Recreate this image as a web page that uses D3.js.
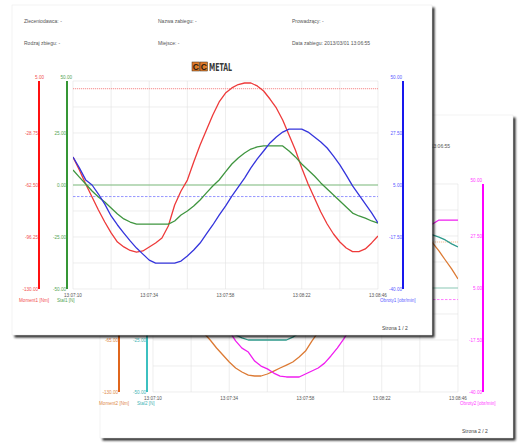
<!DOCTYPE html>
<html>
<head>
<meta charset="utf-8">
<script src="https://cdn.jsdelivr.net/npm/d3@7"></script>
<style>
body { margin: 0; background: #fff; }
svg { display: block; font-family: "Liberation Sans", Arial, sans-serif; }
</style>
</head>
<body>
<svg id="chart" width="520" height="445"></svg>
<script>
// Two report pages (Strona 2 behind, Strona 1 in front)

var seconds = [0,2,4,6,8,10,12,14,16,18,20,22,24,26,28,30,32,34,36,38,40,42,44,46,48,
	50,52,54,56,58,60,62,64,66,68,70,72,74,76,78,80,82,84,86,88,90,92,94,96];
var timeTicks = [0, 24, 48, 72, 96];
var timeLabels = ["13:07:10", "13:07:34", "13:07:58", "13:08:22", "13:08:46"];

// page 1
var moment1 = [-44.3,-52.8,-61.8,-70.3,-78.7,-86.5,-93.6,-99.5,-102.7,-105,-106,-105.3,-102.7,-100.1,-96.9,
	-89.1,-75.5,-66.4,-59.3,-47.6,-36.5,-26.8,-17.1,-8.6,-2.8,0.5,2.7,3.7,3.7,1.8,-1.5,-6.7,-12.5,-20.3,-30,
	-39.8,-51.5,-61.8,-70.9,-80,-87.8,-94.3,-99.5,-103.4,-105.7,-105.7,-104,-100.1,-95.6];
var stal1 = [7.2,3.8,0.5,-2.9,-5.8,-8.2,-11.1,-13.9,-16.3,-17.8,-18.8,-18.8,-18.8,-18.8,-18.8,-18.8,-17.3,
	-14.4,-12.5,-10.1,-7.2,-3.8,-0.5,2.4,6.3,10.1,13,15.4,17.3,18.3,18.8,18.8,18.8,18.8,16.3,13.5,10.1,7.2,
	4.3,1,-1.9,-4.8,-7.7,-10.6,-13.5,-14.9,-15.9,-17.3,-18.3];
var obroty1 = [17.1,12.4,7.2,5.0,1.1,-3.3,-8.4,-12.3,-15.8,-19.2,-22.3,-24.9,-27.5,-28.8,-28.8,-28.8,-28.8,
	-27.9,-25.7,-23.1,-20.1,-16.2,-12.3,-8,-4.1,0.2,4.1,8,12.4,16.3,19.7,23.2,25.8,27.9,29.2,29.2,29.2,27.9,
	25.8,23.6,21,17.5,13.7,9.3,4.6,0.7,-3.2,-7.1,-11.4];

// page 2
var moment2 = [48.8,33.8,18.8,3.8,-10,-23.8,-36.3,-47.5,-56.3,-65,-75,-83.8,-92.5,-100,-105,-108.8,-110,
	-110,-107.5,-103.8,-100,-96.3,-92.5,-86.3,-78.8,-66.3,-55,-41.3,-26.3,-10,6.3,22.5,37.5,51.3,63.8,73.8,
	81.3,86.3,88.8,88.8,85,78.8,71.3,63.8,56.3,46.3,35,23.8,11.3];
var stal2 = [13,9.1,5.3,1.9,-1.9,-5.3,-8.7,-11.5,-14.4,-16.8,-19.2,-20.5,-21.5,-22.5,-24,-25,-25,
	-25,-25,-25,-25,-25,-23.6,-21.6,-19.2,-16.3,-13,-9.6,-5.8,-1.9,1.9,5.8,9.1,12.5,15.4,18.3,20.7,
	22.6,24,25,25.5,25.5,25.5,25.5,25.5,24.5,23.1,21.2,19.7];
var obroty2 = [43.5,38.7,34,29.2,24,18.8,13.2,7.6,2.4,-2.4,-6.3,-10.6,-13.6,-17.9,-21,-22.7,-26.6,-28.8,
	-30,-31.8,-33.1,-33.5,-33.5,-33.5,-32.2,-30.9,-29.6,-27.5,-24.4,-21,-17.1,-12.7,-7.5,-1.9,4.1,10.2,15.8,
	21,25.3,28.4,30.5,31.4,31.8,32.3,32.7,34.4,34.4,34.4,34.4];

// axis tick labels
var moment1Ticks = [5, -28.75, -62.5, -96.25, -130];
var moment2Ticks = [130, 65, 0, -65, -130];
var stalTicks = [50, 25, 0, -25, -50];
var obrotyTicks = [50, 27.5, 5, -17.5, -40];

// zero / limit lines for each axis
var refLines1 = [0, 0, 0];
var refLines2 = [57.5, 0, 0];

var headerRow1 = ["Zleceniodawca: -", "Nazwa zabiegu: -", "Prowadzący: -"];
var headerRow2 = ["Rodzaj zbiegu: -", "Miejsce: -", "Data zabiegu: 2013/03/01 13:06:55"];

var svg = d3.select("#chart");
var defs = svg.append("defs");
defs.append("filter").attr("id", "blur")
	.attr("x", "-5%").attr("y", "-5%").attr("width", "110%").attr("height", "110%")
	.append("feGaussianBlur").attr("stdDeviation", 0.9);

// plot geometry inside a page (page 1 coordinates)
var plotLeft = 73, plotRight = 378, plotTop = 81, plotBottom = 289;
var axisXs = [39, 67, 403];

var pages = [
	{
		id: 2, offset: [80, 103], box: [20, 12, 433, 335],
		series: [moment2, stal2, obroty2], ticks: [moment2Ticks, stalTicks, obrotyTicks],
		refs: refLines2,
		lineColors: ["#dc7a34", "#2f9a8c", "#f01ef0"],
		axisColors: ["#e0661c", "#3cc0c0", "#ff00ff"],
		labelColors: ["#e08a4a", "#45b5b5", "#ff3cff"],
		refColors: ["#f2b88c", "#86cbb6", "#ff70ff"],
		titles: ["Moment2 [Nm]", "Stal2 [N]", "Obroty2 [obr/min]"],
		pageLabel: "Strona 2 / 2"
	},
	{
		id: 1, offset: [0, 0], box: [12, 5, 432, 335],
		series: [moment1, stal1, obroty1], ticks: [moment1Ticks, stalTicks, obrotyTicks],
		refs: refLines1,
		lineColors: ["#ee3a3a", "#3f953f", "#3434dc"],
		axisColors: ["#ff1010", "#359635", "#1818ee"],
		labelColors: ["#f25050", "#55a555", "#5a5aff"],
		refColors: ["#f58080", "#72b872", "#8a8aff"],
		titles: ["Moment1 [Nm]", "Stal1 [N]", "Obroty1 [obr/min]"],
		pageLabel: "Strona 1 / 2"
	}
];

pages.forEach(drawPage);

function drawPage(p) {
	var g = svg.append("g")
		.attr("transform", "translate(" + p.offset[0] + "," + p.offset[1] + ")");
	var bx = p.box[0], by = p.box[1], bw = p.box[2] - p.box[0], bh = p.box[3] - p.box[1];

	// shadow + sheet
	g.append("rect")
		.attr("x", bx + 2.5).attr("y", by + 2.5)
		.attr("width", bw).attr("height", bh)
		.attr("fill", "#000")
		.attr("opacity", 0.85)
		.attr("filter", "url(#blur)");
	g.append("rect")
		.attr("x", bx).attr("y", by)
		.attr("width", bw).attr("height", bh)
		.attr("fill", "#fff")
		.attr("stroke", "#ececec").attr("stroke-width", 0.6);

	// header
	var colX = [24, 158, 292];
	[headerRow1, headerRow2].forEach(function(row, r) {
		g.selectAll(null)
			.data(row)
			.enter()
			.append("text")
			.attr("x", function(d, i) { return colX[i]; })
			.attr("y", 23 + r * 22)
			.attr("font-size", 5)
			.attr("fill", "#555")
			.text(function(d) { return d; });
	});

	drawLogo(g);

	var x = d3.scaleLinear().domain([0, 96]).range([plotLeft, plotRight]);
	var ys = p.ticks.map(function(t) {
		return d3.scaleLinear().domain([t[t.length - 1], t[0]]).range([plotBottom, plotTop]);
	});

	// grid
	var gridY = d3.scaleLinear().domain([0, 8]).range([plotBottom, plotTop]);
	var grid = g.append("g").attr("stroke", "#e3e3e3").attr("stroke-width", 0.6);
	grid.selectAll("line.h")
		.data(d3.range(9))
		.enter()
		.append("line")
		.attr("x1", plotLeft).attr("x2", plotRight)
		.attr("y1", function(d) { return gridY(d); })
		.attr("y2", function(d) { return gridY(d); });
	grid.selectAll("line.v")
		.data(d3.range(0, 97, 12))
		.enter()
		.append("line")
		.attr("y1", plotTop).attr("y2", plotBottom)
		.attr("x1", function(d) { return x(d); })
		.attr("x2", function(d) { return x(d); });

	// reference lines
	var dashes = ["1.2,0.8", null, "2.5,1.5"];
	p.refs.forEach(function(v, i) {
		g.append("line")
			.attr("x1", plotLeft).attr("x2", plotRight)
			.attr("y1", ys[i](v)).attr("y2", ys[i](v))
			.attr("stroke", p.refColors[i])
			.attr("stroke-width", 0.9)
			.attr("stroke-dasharray", dashes[i]);
	});

	// curves
	defs.append("clipPath").attr("id", "clip" + p.id)
		.append("rect")
		.attr("x", plotLeft).attr("y", plotTop - 1)
		.attr("width", plotRight - plotLeft).attr("height", plotBottom - plotTop + 2);
	var curves = g.append("g").attr("clip-path", "url(#clip" + p.id + ")");
	p.series.forEach(function(vals, i) {
		var line = d3.line()
			.x(function(d, k) { return x(seconds[k]); })
			.y(function(d) { return ys[i](d); });
		curves.append("path")
			.attr("d", line(vals))
			.attr("fill", "none")
			.attr("stroke", p.lineColors[i])
			.attr("stroke-width", 1.3)
			.attr("stroke-linejoin", "round");
	});

	// value axes
	p.ticks.forEach(function(t, i) {
		var ax = axisXs[i];
		g.append("line")
			.attr("x1", ax).attr("x2", ax)
			.attr("y1", plotTop).attr("y2", plotBottom)
			.attr("stroke", p.axisColors[i])
			.attr("stroke-width", 2);
		g.selectAll(null)
			.data(t)
			.enter()
			.append("text")
			.attr("x", function(d, k) { return (k == 0 && i < 2) ? ax + 5 : ax - 1; })
			.attr("y", function(d, k) { return k == 0 ? plotTop - 2.5 : ys[i](d) + 1.6; })
			.attr("text-anchor", "end")
			.attr("font-size", 4.6)
			.attr("fill", p.labelColors[i])
			.text(function(d) { return d.toFixed(2); });
	});

	// time labels
	g.selectAll(null)
		.data(timeTicks)
		.enter()
		.append("text")
		.attr("x", function(d) { return x(d); })
		.attr("y", 296.5)
		.attr("text-anchor", "middle")
		.attr("font-size", 4.6)
		.attr("fill", "#555")
		.text(function(d, i) { return timeLabels[i]; });

	// axis titles
	var titleX = [19, 57, 380];
	p.titles.forEach(function(s, i) {
		g.append("text")
			.attr("x", titleX[i]).attr("y", 302)
			.attr("font-size", 4.6)
			.attr("fill", p.labelColors[i])
			.text(s);
	});

	g.append("text")
		.attr("x", 382).attr("y", 330)
		.attr("font-size", 5)
		.attr("fill", "#444")
		.text(p.pageLabel);
}

function drawLogo(g) {
	var lg = g.append("g").attr("transform", "translate(192,62)");
	[0, 8].forEach(function(dx) {
		lg.append("rect")
			.attr("x", dx).attr("y", 0)
			.attr("width", 7.5).attr("height", 9)
			.attr("fill", "#e07b28")
			.attr("stroke", "#3a2a1a").attr("stroke-width", 0.5);
		lg.append("text")
			.attr("x", dx + 3.75).attr("y", 7.6)
			.attr("text-anchor", "middle")
			.attr("font-size", 8.5)
			.attr("font-weight", "bold")
			.attr("fill", "#2a1a10")
			.text("C");
	});
	lg.append("text")
		.attr("x", 17).attr("y", 8.6)
		.attr("font-family", "'DejaVu Sans Condensed', 'DejaVu Sans', sans-serif")
		.attr("font-weight", "bold")
		.attr("font-size", 10)
		.attr("textLength", 23)
		.attr("lengthAdjust", "spacingAndGlyphs")
		.attr("fill", "#3a3a3a")
		.text("METAL");
}
</script>
</body>
</html>
